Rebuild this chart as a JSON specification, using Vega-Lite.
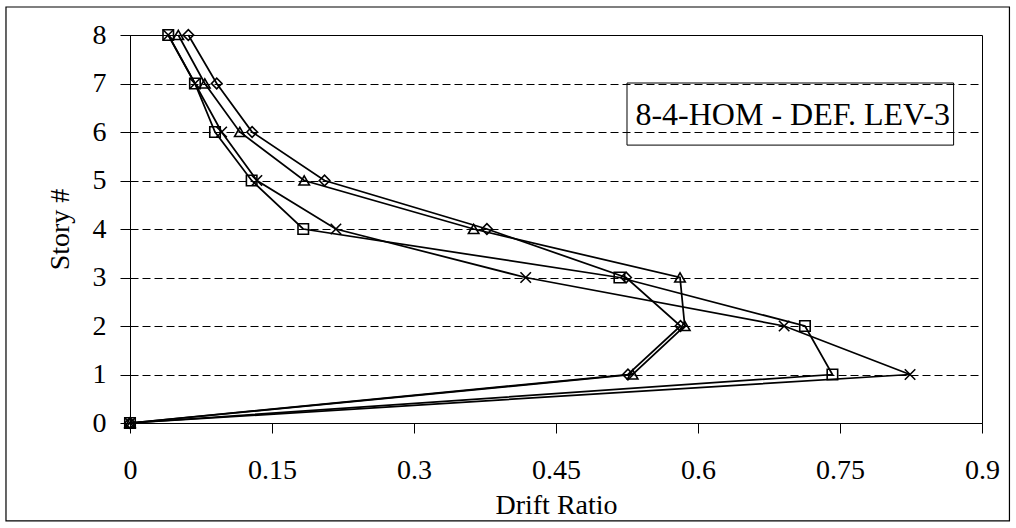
{
  "$schema": "https://vega.github.io/schema/vega-lite/v6.json",
  "width": 852,
  "height": 388,
  "autosize": {"type": "none"},
  "padding": {"left": 130, "top": 35, "right": 34, "bottom": 105},
  "background": "white",
  "config": {
    "view": {"stroke": "black", "strokeWidth": 1},
    "font": "Liberation Serif",
    "axis": {
      "labelFont": "Liberation Serif",
      "titleFont": "Liberation Serif",
      "labelColor": "black",
      "titleColor": "black",
      "domainColor": "black",
      "tickColor": "black",
      "labelFontSize": 28,
      "titleFontSize": 28,
      "titleFontWeight": "normal",
      "tickSize": 10
    }
  },
  "datasets": {
    "drift": [
      {"series": "diamond", "story": 0, "drift": 0},
      {"series": "diamond", "story": 1, "drift": 0.526},
      {"series": "diamond", "story": 2, "drift": 0.5815},
      {"series": "diamond", "story": 3, "drift": 0.524},
      {"series": "diamond", "story": 4, "drift": 0.377},
      {"series": "diamond", "story": 5, "drift": 0.2055},
      {"series": "diamond", "story": 6, "drift": 0.129},
      {"series": "diamond", "story": 7, "drift": 0.0916},
      {"series": "diamond", "story": 8, "drift": 0.0616},
      {"series": "triangle", "story": 0, "drift": 0},
      {"series": "triangle", "story": 1, "drift": 0.531},
      {"series": "triangle", "story": 2, "drift": 0.586},
      {"series": "triangle", "story": 3, "drift": 0.581},
      {"series": "triangle", "story": 4, "drift": 0.363},
      {"series": "triangle", "story": 5, "drift": 0.184},
      {"series": "triangle", "story": 6, "drift": 0.116},
      {"series": "triangle", "story": 7, "drift": 0.079},
      {"series": "triangle", "story": 8, "drift": 0.051},
      {"series": "square", "story": 0, "drift": 0},
      {"series": "square", "story": 1, "drift": 0.742},
      {"series": "square", "story": 2, "drift": 0.713},
      {"series": "square", "story": 3, "drift": 0.517},
      {"series": "square", "story": 4, "drift": 0.183},
      {"series": "square", "story": 5, "drift": 0.1285},
      {"series": "square", "story": 6, "drift": 0.0898},
      {"series": "square", "story": 7, "drift": 0.0686},
      {"series": "square", "story": 8, "drift": 0.0404},
      {"series": "cross", "story": 0, "drift": 0},
      {"series": "cross", "story": 1, "drift": 0.824},
      {"series": "cross", "story": 2, "drift": 0.691},
      {"series": "cross", "story": 3, "drift": 0.418},
      {"series": "cross", "story": 4, "drift": 0.2175},
      {"series": "cross", "story": 5, "drift": 0.134},
      {"series": "cross", "story": 6, "drift": 0.0968},
      {"series": "cross", "story": 7, "drift": 0.0686},
      {"series": "cross", "story": 8, "drift": 0.0404}
    ],
    "note": [
      {"label": "8-4-HOM - DEF. LEV-3"}
    ]
  },
  "layer": [
    {
      "data": {"name": "note"},
      "mark": {"type": "rect", "fill": null, "stroke": "black", "strokeWidth": 1.2, "clip": false},
      "encoding": {
        "x": {"datum": -0.131, "type": "quantitative"},
        "x2": {"datum": 0.929},
        "y": {"datum": 8.577, "type": "quantitative"},
        "y2": {"datum": -2.02}
      }
    },
    {
      "data": {"name": "drift"},
      "mark": {"type": "line", "color": "black", "strokeWidth": 1.75},
      "encoding": {
        "x": {
          "field": "drift",
          "type": "quantitative",
          "scale": {"domain": [0, 0.9], "nice": false, "zero": true},
          "axis": {
            "title": "Drift Ratio",
            "values": [0, 0.15, 0.3, 0.45, 0.6, 0.75, 0.9],
            "format": ".2~f",
            "grid": false,
            "labelPadding": 23,
            "titlePadding": 7,
            "labelFlush": false
          }
        },
        "y": {
          "field": "story",
          "type": "quantitative",
          "scale": {"domain": [0, 8], "nice": false},
          "axis": {
            "title": "Story #",
            "values": [0, 1, 2, 3, 4, 5, 6, 7, 8],
            "grid": true,
            "gridColor": "black",
            "gridDash": [8, 4],
            "gridWidth": 1,
            "labelPadding": 14,
            "titlePadding": 18,
            "labelFlush": false
          }
        },
        "detail": {"field": "series"},
        "order": {"field": "story", "type": "quantitative"}
      }
    },
    {
      "data": {"name": "drift"},
      "mark": {"type": "point", "filled": false, "stroke": "black", "strokeWidth": 1.6, "size": 110, "opacity": 1},
      "encoding": {
        "x": {"field": "drift", "type": "quantitative"},
        "y": {"field": "story", "type": "quantitative"},
        "shape": {
          "field": "series",
          "type": "nominal",
          "scale": {
            "domain": ["diamond", "triangle", "square", "cross"],
            "range": ["diamond", "triangle-up", "square", "M-1,-1L1,1M1,-1L-1,1"]
          },
          "legend": null
        }
      }
    },
    {
      "data": {"name": "note"},
      "mark": {"type": "rect", "fill": null, "stroke": "black", "strokeWidth": 1},
      "encoding": {
        "x": {"datum": 0.525, "type": "quantitative"},
        "x2": {"datum": 0.87},
        "y": {"datum": 7.01, "type": "quantitative"},
        "y2": {"datum": 5.73}
      }
    },
    {
      "data": {"name": "note"},
      "mark": {"type": "text", "font": "Liberation Serif", "fontSize": 32, "align": "center", "baseline": "alphabetic", "color": "black"},
      "encoding": {
        "text": {"field": "label"},
        "x": {"datum": 0.7, "type": "quantitative"},
        "y": {"datum": 6.144, "type": "quantitative"}
      }
    }
  ]
}
